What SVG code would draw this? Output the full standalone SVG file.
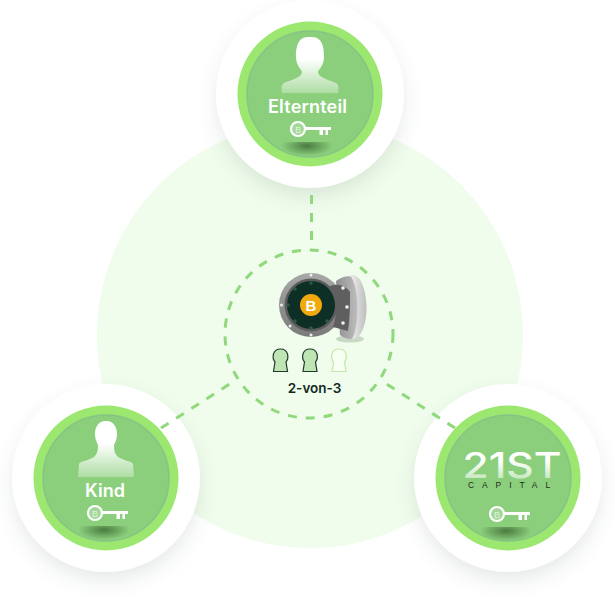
<svg xmlns="http://www.w3.org/2000/svg" width="615" height="597" viewBox="0 0 615 597">
<style>
.lbl{font-family:"Inter","Liberation Sans",sans-serif;font-weight:600;font-size:18px;fill:#fff;text-anchor:middle}
.dash{fill:none;stroke:#8fd87c;stroke-width:3;stroke-dasharray:9 9}
</style>
<defs>
<linearGradient id="fade" x1="0" y1="0" x2="0" y2="1"><stop offset="0" stop-color="#fff"/><stop offset=".4" stop-color="#fff"/><stop offset="1" stop-color="#fff" stop-opacity=".3"/></linearGradient>
<linearGradient id="logoFade" x1="0" y1="0" x2="0" y2="1"><stop offset="0" stop-color="#fff"/><stop offset=".4" stop-color="#fff"/><stop offset="1" stop-color="#fff" stop-opacity=".3"/></linearGradient>
<linearGradient id="door" x1="0" y1="0" x2="1" y2="0"><stop offset="0" stop-color="#8f8f8f"/><stop offset=".6" stop-color="#b5b5b5"/><stop offset="1" stop-color="#cfcfcf"/></linearGradient>
<linearGradient id="lip" x1="0" y1="0" x2="1" y2="0"><stop offset="0" stop-color="#f0f0f0"/><stop offset="1" stop-color="#bdbdbd"/></linearGradient>
<linearGradient id="ringG" x1="0" y1="0" x2="0" y2="1"><stop offset="0" stop-color="#a8a8a8"/><stop offset="1" stop-color="#7a7a7a"/></linearGradient>
<radialGradient id="shade"><stop offset="0" stop-color="#4a7a40"/><stop offset="1" stop-color="#4a7a40" stop-opacity="0"/></radialGradient>
<filter id="sh" x="-30%" y="-30%" width="160%" height="160%"><feDropShadow dx="0" dy="9" stdDeviation="9" flood-color="#55705a" flood-opacity=".14"/></filter>
<clipPath id="shadeClip"><rect x="-20" y="13" width="60" height="16"/></clipPath>
<g id="disc">
<circle r="94" fill="#fff" filter="url(#sh)"/>
<circle r="72.500" fill="#9be76f"/>
<circle r="63" fill="#8bcf7d" stroke="#84c486" stroke-width="1.500"/>
</g>
<g id="key">
<ellipse cx="9" cy="17" rx="26" ry="10" fill="url(#shade)" clip-path="url(#shadeClip)"/>
<circle r="7" fill="#fff" fill-opacity=".2" stroke="#fff" stroke-width="2.200"/>
<text y="3.500" font-family="Liberation Sans,sans-serif" font-size="9" fill="#fff" fill-opacity=".7" text-anchor="middle">B</text>
<path d="M7-2H33V1H30V6H27.500V1H25V6H21.500V1H7Z" fill="#fff"/>
</g>
<path id="keyhole" d="M-7 11H7L5.500 1.500C8.500-2 8.500-11.500 0-11.500S-8.500-2-5.500 1.500Z"/>
</defs>

<circle cx="310" cy="335" r="213" fill="#f0fcec"/>

<g id="elternteil" transform="translate(310 94)">
<use href="#disc"/>
<path d="M-2-57C-13-57-14-45-14-37C-14-28-8-24-8-22C-8-17-18-14-26-11C-30-9-28-1-28-1H28C28-1 30-9 26-11C18-14 8-17 8-22C8-24 14-28 14-37C14-45 13-57 2-57Z" fill="url(#fade)"/>
<text class="lbl" x="-2.500" y="19" textLength="79">Elternteil</text>
<g transform="translate(-12 35)"><use href="#key"/></g>
</g>

<g id="kind" transform="translate(106 478)">
<use href="#disc"/>
<path d="M0-57C-9-57-11-49-11-44C-11-40-10-37-8-33C-8-27-9-24-12-21C-18-17-26-17-27-14L-28-1H28L27-14C26-17 18-17 12-21C9-24 8-27 8-33C10-37 11-40 11-44C11-49 9-57 0-57Z" fill="url(#fade)"/>
<text class="lbl" x="-1" y="19">Kind</text>
<g transform="translate(-11 35)"><use href="#key"/></g>
</g>

<g id="capital" transform="translate(508 478)">
<use href="#disc"/>
<text x="4" y="0" font-family="Inter,Liberation Sans,sans-serif" font-size="36" font-weight="500" fill="url(#logoFade)" text-anchor="middle" textLength="99" lengthAdjust="spacingAndGlyphs">21ST</text>
<text x="5" y="10" font-family="Liberation Sans,sans-serif" font-size="8.500" fill="#1f2a22" text-anchor="middle" letter-spacing="7.900">CAPITAL</text>
<g transform="translate(-11 36)"><use href="#key"/></g>
</g>

<g id="connectors">
<path class="dash" d="M311.500 195V250"/>
<path class="dash" d="M161 428L236 380"/>
<path class="dash" d="M455 428L382 381"/>
<circle class="dash" cx="309" cy="334" r="84" stroke-dasharray="10 9.500"/>
</g>

<g id="vault">
<ellipse cx="350" cy="339" rx="14" ry="3.500" fill="#7e967e" opacity=".35"/>
<path d="M336 281C345 274 357 274 361 285C367 300 367 322 361 333C357 340 348 341 340 335Z" fill="url(#door)"/>
<path d="M350 275C360 273 366 288 366.500 306C367 323 361 340 352 339C359 328 360 288 350 275Z" fill="url(#lip)"/>
<circle cx="311" cy="305" r="32" fill="url(#ringG)"/>
<circle cx="311" cy="305" r="26.500" fill="#5d5d5d"/>
<circle cx="311" cy="305" r="24" fill="#0d2f25"/>
<circle cx="311" cy="305" r="11" fill="#f2a90d"/>
<text x="311" y="310.500" font-family="Liberation Sans,sans-serif" font-weight="700" font-size="15" fill="#fff" text-anchor="middle">B</text>
<path d="M328 287C335 283 345 284 350 292C350 305 350 318 348 331L333 327C338 312 337 298 328 287Z" fill="#5f5f5f"/>
<g fill="#2f5a48"><circle cx="311" cy="283" r="1.800"/><circle cx="288" cy="305" r="1.800"/><circle cx="311" cy="328" r="1.800"/><circle cx="295" cy="289" r="1.800"/><circle cx="295" cy="321" r="1.800"/><circle cx="327" cy="321" r="1.800"/></g>
<g fill="#f0f0f0"><circle cx="281.500" cy="305" r="1.500"/><circle cx="290" cy="326" r="1.500"/><circle cx="311" cy="335" r="1.500"/><circle cx="311" cy="275" r="1.500"/><circle cx="343" cy="288" r="1.800"/><circle cx="347" cy="307" r="1.800"/><circle cx="343" cy="323" r="1.800"/></g>
</g>

<g id="keyholes" stroke-width="1.200">
<use href="#keyhole" x="280.500" y="360.500" fill="#bfe5b4" stroke="#1f3a2c"/>
<use href="#keyhole" x="310" y="360.500" fill="#bfe5b4" stroke="#1f3a2c"/>
<use href="#keyhole" x="339" y="360.500" fill="#f6fff2" stroke="#c2e8a8"/>
</g>
<text id="threshold" x="314.500" y="393" font-family="Inter,Liberation Sans,sans-serif" font-weight="600" font-size="13.500" fill="#10291f" text-anchor="middle">2-von-3</text>
</svg>
